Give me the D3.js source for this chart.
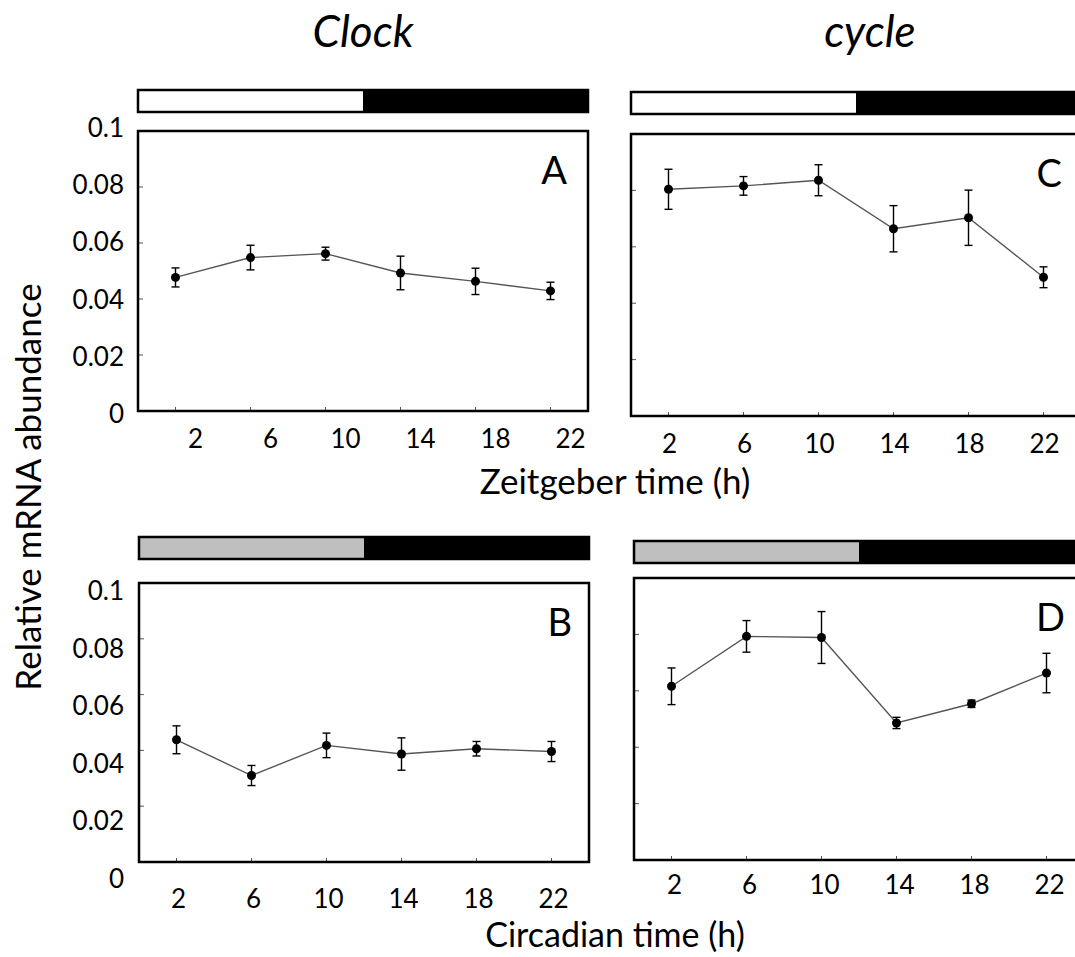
<!DOCTYPE html>
<html>
<head>
<meta charset="utf-8">
<script src="https://cdn.jsdelivr.net/npm/d3@7"></script>
<style>
  html, body { margin: 0; padding: 0; background: #fff; overflow: hidden; }
  svg { display: block; }
  text { font-family: Lato, "Open Sans", sans-serif; fill: #000; }
</style>
</head>
<body>
<svg id="chart" width="1075" height="957"></svg>
<script>
// Sampling times (h) and tick labels
const hours = [2, 6, 10, 14, 18, 22];
const xTickLabels = ["2", "6", "10", "14", "18", "22"];
const yTicks = [0, 0.02, 0.04, 0.06, 0.08, 0.1];
const yTickLabels = ["0", "0.02", "0.04", "0.06", "0.08", "0.1"];

// Clock, light/dark (A) and constant darkness (B)
const clockLD = [0.0477, 0.0548, 0.0562, 0.0493, 0.0463, 0.0429];
const clockLDErr = [0.0034, 0.0044, 0.0023, 0.0060, 0.0047, 0.0031];
const clockDD = [0.0438, 0.0310, 0.0418, 0.0387, 0.0406, 0.0396];
const clockDDErr = [0.0050, 0.0036, 0.0044, 0.0058, 0.0026, 0.0036];

// cycle, light/dark (C) and constant darkness (D)
const cycleLD = [0.0804, 0.0816, 0.0836, 0.0664, 0.0703, 0.0492];
const cycleLDErr = [0.0071, 0.0033, 0.0055, 0.0082, 0.0098, 0.0037];
const cycleDD = [0.0616, 0.0793, 0.0789, 0.0486, 0.0554, 0.0663];
const cycleDDErr = [0.0065, 0.0056, 0.0092, 0.0020, 0.0013, 0.0070];

// Light regime bars: first half of the day light (or subjective day), second half dark
const regimeSpans = [[0, 12], [12, 24]];

const svg = d3.select("#chart");

const panels = [
  { letter: "A", values: clockLD, errs: clockLDErr, x0: 138, y0: 131, y1: 411,
    barTop: 90, dayFill: "#ffffff", labelY: 438, labelDx: 20, letterDx: 21,
    yLabels: true, yLab0: 413, yLab1: 127 },
  { letter: "B", values: clockDD, errs: clockDDErr, x0: 139, y0: 583, y1: 862,
    barTop: 537, dayFill: "#bfbfbf", labelY: 898, labelDx: 2, letterDx: 17,
    yLabels: true, yLab0: 878, yLab1: 590 },
  { letter: "C", values: cycleLD, errs: cycleLDErr, x0: 631, y0: 134, y1: 416,
    barTop: 92, dayFill: "#ffffff", labelY: 443, labelDx: 1, letterDx: 19,
    yLabels: false },
  { letter: "D", values: cycleDD, errs: cycleDDErr, x0: 634, y0: 578, y1: 860,
    barTop: 541, dayFill: "#bfbfbf", labelY: 884, labelDx: 3, letterDx: 19,
    yLabels: false }
];

const panelWidth = 450;
const barHeight = 22;
const tickFont = 26;

panels.forEach(p => {
  const x = d3.scaleLinear().domain([0, 24]).range([p.x0, p.x0 + panelWidth]);
  const y = d3.scaleLinear().domain([0, 0.1]).range([p.y1, p.y0]);
  const g = svg.append("g");

  // light regime bar
  const bar = g.append("g");
  bar.selectAll("rect.seg")
    .data(regimeSpans)
    .join("rect")
    .attr("class", "seg")
    .attr("x", d => x(d[0]))
    .attr("y", p.barTop)
    .attr("width", d => x(d[1]) - x(d[0]))
    .attr("height", barHeight)
    .attr("fill", (d, i) => i === 0 ? p.dayFill : "#000");
  bar.append("rect")
    .attr("x", x(0)).attr("y", p.barTop)
    .attr("width", x(24) - x(0)).attr("height", barHeight)
    .attr("fill", "none").attr("stroke", "#000").attr("stroke-width", 2.5);

  // y ticks (inside the frame)
  g.selectAll("line.yt")
    .data(yTicks.slice(1, -1))
    .join("line")
    .attr("x1", x(0)).attr("x2", x(0) + 5)
    .attr("y1", d => y(d)).attr("y2", d => y(d))
    .attr("stroke", "#555").attr("stroke-width", 1);

  // x ticks (inside the frame)
  g.selectAll("line.xt")
    .data(hours)
    .join("line")
    .attr("x1", d => x(d)).attr("x2", d => x(d))
    .attr("y1", p.y1).attr("y2", p.y1 - 4)
    .attr("stroke", "#555").attr("stroke-width", 1);

  // x tick labels
  g.selectAll("text.xl")
    .data(hours)
    .join("text")
    .attr("x", d => x(d) + p.labelDx)
    .attr("y", p.labelY)
    .attr("text-anchor", "middle")
    .attr("dominant-baseline", "central")
    .attr("font-size", tickFont)
    .text((d, i) => xTickLabels[i]);

  // y tick labels
  if (p.yLabels) {
    const yl = d3.scaleLinear().domain([0, 0.1]).range([p.yLab0, p.yLab1]);
    g.selectAll("text.yl")
      .data(yTicks)
      .join("text")
      .attr("x", 124)
      .attr("y", d => yl(d))
      .attr("text-anchor", "end")
      .attr("dominant-baseline", "central")
      .attr("font-size", tickFont)
      .text((d, i) => yTickLabels[i]);
  }

  // error bars
  const eb = g.append("g").attr("stroke", "#000").attr("stroke-width", 1.4);
  hours.forEach((h, i) => {
    const v = p.values[i], e = p.errs[i];
    eb.append("line").attr("x1", x(h)).attr("x2", x(h))
      .attr("y1", y(v - e)).attr("y2", y(v + e));
    eb.append("line").attr("x1", x(h) - 4).attr("x2", x(h) + 4)
      .attr("y1", y(v + e)).attr("y2", y(v + e));
    eb.append("line").attr("x1", x(h) - 4).attr("x2", x(h) + 4)
      .attr("y1", y(v - e)).attr("y2", y(v - e));
  });

  // connecting line
  const line = d3.line().x((d, i) => x(hours[i])).y(d => y(d));
  g.append("path")
    .attr("d", line(p.values))
    .attr("fill", "none")
    .attr("stroke", "#555")
    .attr("stroke-width", 1.4);

  // points
  g.selectAll("circle")
    .data(p.values)
    .join("circle")
    .attr("cx", (d, i) => x(hours[i]))
    .attr("cy", d => y(d))
    .attr("r", 4.5)
    .attr("fill", "#000");

  // frame
  g.append("rect")
    .attr("x", x(0)).attr("y", p.y0)
    .attr("width", x(24) - x(0)).attr("height", p.y1 - p.y0)
    .attr("fill", "none").attr("stroke", "#000").attr("stroke-width", 2.5);

  // panel letter
  g.append("text")
    .attr("x", x(24) - p.letterDx)
    .attr("y", y(0.0865))
    .attr("text-anchor", "end")
    .attr("dominant-baseline", "central")
    .attr("font-size", 38)
    .text(p.letter);
});

// gene titles
svg.append("text").attr("x", 363).attr("y", 30)
  .attr("text-anchor", "middle").attr("dominant-baseline", "central")
  .attr("font-style", "italic").attr("font-size", 44).text("Clock");
svg.append("text").attr("x", 870).attr("y", 30)
  .attr("text-anchor", "middle").attr("dominant-baseline", "central")
  .attr("font-style", "italic").attr("font-size", 44).text("cycle");

// axis titles
svg.append("text").attr("x", 615).attr("y", 480)
  .attr("text-anchor", "middle").attr("dominant-baseline", "central")
  .attr("font-size", 35).text("Zeitgeber time (h)");
svg.append("text").attr("x", 615).attr("y", 933)
  .attr("text-anchor", "middle").attr("dominant-baseline", "central")
  .attr("font-size", 34).text("Circadian time (h)");
svg.append("text")
  .attr("transform", "translate(27,487) rotate(-90)")
  .attr("text-anchor", "middle").attr("dominant-baseline", "central")
  .attr("font-size", 35).text("Relative mRNA abundance");
</script>
</body>
</html>
